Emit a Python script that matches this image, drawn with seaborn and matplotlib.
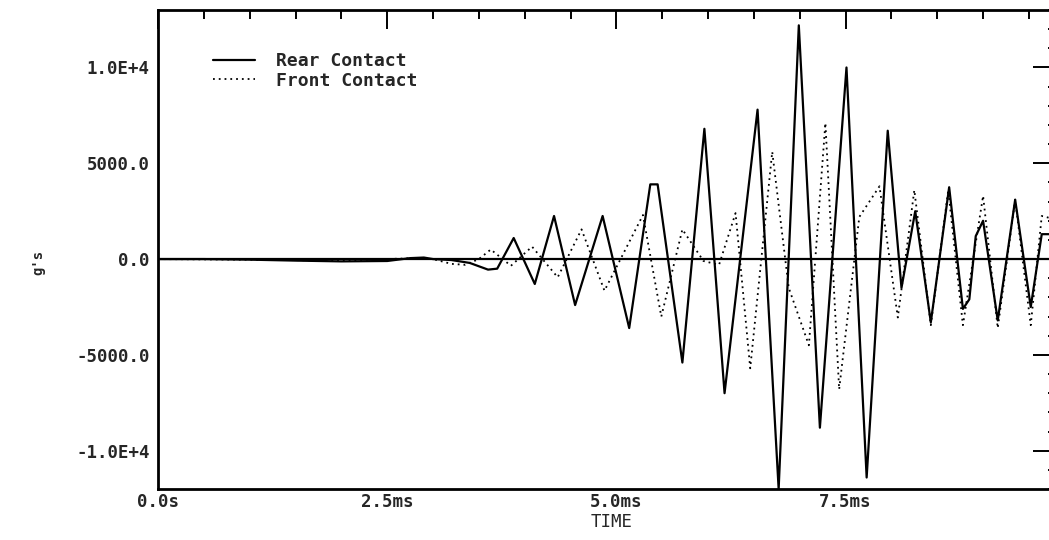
import matplotlib
matplotlib.use("Agg")
import matplotlib.pyplot as plt
from matplotlib.ticker import MultipleLocator, FixedLocator, FixedFormatter
from matplotlib.lines import Line2D
import seaborn as sns
import pandas as pd

# ---- data (time in ms, acceleration in g's) ----
rear_time = [0.0, 0.5, 1.0, 1.5, 2.0, 2.5, 2.75, 2.9, 3.0, 3.2, 3.4, 3.6, 3.7,
             3.88, 4.11, 4.32, 4.55, 4.85, 5.14, 5.37, 5.45, 5.72, 5.96, 6.18,
             6.54, 6.77, 6.99, 7.22, 7.51, 7.73, 7.96, 8.11, 8.26, 8.43, 8.63,
             8.78, 8.85, 8.92, 9.0, 9.16, 9.35, 9.52, 9.64, 9.85]
rear_g = [0, 0, -30, -80, -120, -100, 50, 80, 0, -50, -200, -550, -500,
          1100, -1300, 2250, -2400, 2250, -3600, 3900, 3900, -5400, 6800, -7000,
          7800, -12000, 12200, -8800, 10000, -11400, 6700, -1500, 2500, -3300, 3750,
          -2600, -2100, 1200, 2000, -3200, 3100, -2500, 1300, 1300]

front_time = [0.0, 1.0, 2.0, 2.8, 3.0, 3.2, 3.35, 3.5, 3.63, 3.85, 4.08, 4.36,
              4.62, 4.87, 5.29, 5.49, 5.72, 5.95, 6.12, 6.30, 6.46, 6.70, 6.88,
              7.10, 7.28, 7.43, 7.65, 7.87, 8.07, 8.25, 8.43, 8.62, 8.78, 9.0,
              9.16, 9.35, 9.52, 9.64, 9.85]
front_g = [0, -30, -80, 50, 0, -250, -300, 0, 500, -350, 650, -950,
           1550, -1650, 2300, -3000, 1550, -100, -300, 2400, -5700, 5600, -1500,
           -4500, 7100, -6800, 2200, 3800, -3050, 3600, -3450, 3600, -3450, 3300,
           -3600, 3100, -3450, 2250, 2000]

series_names = ["Rear Contact", "Front Contact"]
x_tick_values = [0.0, 2.5, 5.0, 7.5]
x_tick_labels = ["0.0s", "2.5ms", "5.0ms", "7.5ms"]
y_tick_values = [-10000, -5000, 0, 5000, 10000]
y_tick_labels = ["-1.0E+4", "-5000.0", "0.0", "5000.0", "1.0E+4"]

df = pd.concat([
    pd.DataFrame({"t": rear_time, "g": rear_g, "s": series_names[0]}),
    pd.DataFrame({"t": front_time, "g": front_g, "s": series_names[1]}),
], ignore_index=True)

sns.set_style("white")
plt.rcParams["font.family"] = ["DejaVu Sans Mono", "DejaVu Sans"]

W, H = 1049, 540
fig = plt.figure(figsize=(W / 100, H / 100), dpi=100)
left_px, right_px, top_px, bottom_px = 158, 1061, 10, 489
ax = fig.add_axes([left_px / W, 1 - bottom_px / H,
                   (right_px - left_px) / W, (bottom_px - top_px) / H])

ax.axhline(0, color="black", lw=1.6, zorder=1)
sns.lineplot(data=df, x="t", y="g", hue="s", style="s",
             palette={series_names[0]: "black", series_names[1]: "black"},
             dashes={series_names[0]: "", series_names[1]: (1, 2.2)},
             sort=False, estimator=None, ax=ax, legend=False, zorder=3)
for ln in ax.get_lines()[1:]:
    if ln.get_linestyle() == "-":
        ln.set_linewidth(1.6)
    else:
        ln.set_linewidth(1.3)

ax.set_xlim(0, 9.85)
ax.set_ylim(-12000, 13000)

ax.xaxis.set_major_locator(FixedLocator(x_tick_values))
ax.xaxis.set_major_formatter(FixedFormatter(x_tick_labels))
ax.xaxis.set_minor_locator(MultipleLocator(0.5))
ax.yaxis.set_major_locator(FixedLocator(y_tick_values))
ax.yaxis.set_major_formatter(FixedFormatter(y_tick_labels))
ax.yaxis.set_minor_locator(MultipleLocator(1000))

ax.tick_params(axis="both", which="both", direction="in", top=True, right=True,
               color="black", width=1.4)
ax.tick_params(axis="x", which="major", length=14, pad=3, labelsize=12.5)
ax.tick_params(axis="x", which="minor", length=6.5)
ax.tick_params(axis="y", which="major", length=20, pad=6, labelsize=12.5)
ax.tick_params(axis="y", which="minor", length=9.5)
for lab in ax.get_xticklabels() + ax.get_yticklabels():
    lab.set_fontweight("bold")

for sp in ax.spines.values():
    sp.set_visible(True)
    sp.set_color("black")
    sp.set_linewidth(2)

ax.set_xlabel("TIME", fontsize=12.5)
ax.xaxis.set_label_coords((612 - left_px) / (right_px - left_px),
                          (bottom_px - 513) / (bottom_px - top_px))
ax.set_ylabel("g's", fontsize=10, fontweight="bold")
ax.yaxis.set_label_coords((45 - left_px) / (right_px - left_px),
                          (bottom_px - 262) / (bottom_px - top_px))

handles = [Line2D([], [], color="black", lw=1.6),
           Line2D([], [], color="black", lw=1.3, linestyle=(0, (1, 2.2)))]
ax.legend(handles, series_names, loc="upper left",
          bbox_to_anchor=((213 - left_px) / (right_px - left_px),
                          (bottom_px - 52) / (bottom_px - top_px)),
          frameon=False, borderpad=0, borderaxespad=0, handlelength=2.3,
          handletextpad=1.2, labelspacing=0.1,
          prop={"family": "DejaVu Sans Mono", "weight": "bold", "size": 13})

fig.savefig("out.png", dpi=100)
